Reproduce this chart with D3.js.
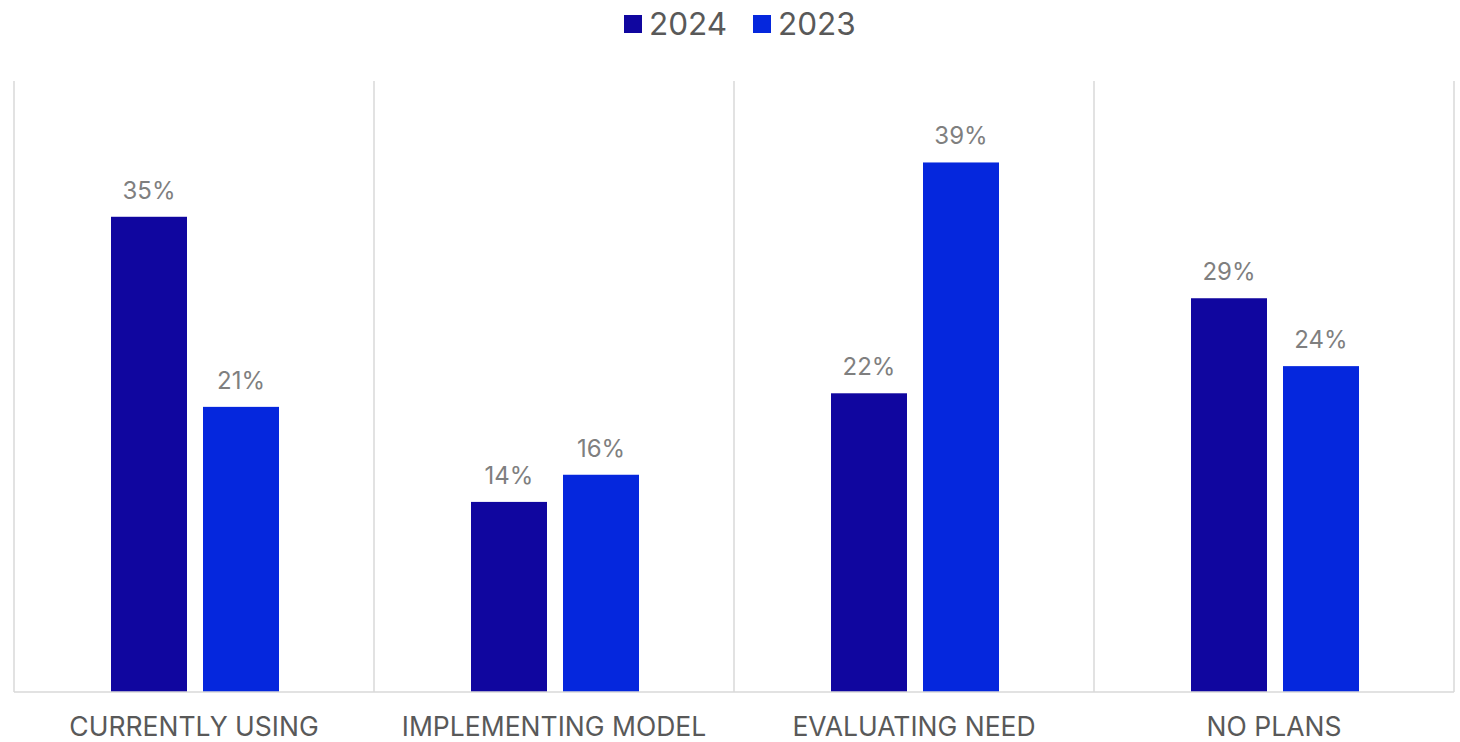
<!DOCTYPE html>
<html>
<head>
<meta charset="utf-8">
<script src="https://cdn.jsdelivr.net/npm/d3@7"></script>
<style>
  html, body { margin: 0; padding: 0; background: #fff; }
  svg { display: block; font-family: Inter, "Noto Sans", sans-serif; }
</style>
</head>
<body>
<svg id="chart" width="1460" height="742"></svg>
<script>
const categories = ["CURRENTLY USING", "IMPLEMENTING MODEL", "EVALUATING NEED", "NO PLANS"];
const seriesNames = ["2024", "2023"];
const values2024 = [35, 14, 22, 29];
const values2023 = [21, 16, 39, 24];
const colors = ["#10069f", "#0527dd"];

const svg = d3.select("#chart");
const margin = { left: 14, right: 6, top: 81, bottom: 50 };
const width = 1460, height = 742;
const plotBottom = height - margin.bottom;

const x = d3.scaleBand()
  .domain(categories)
  .range([margin.left, width - margin.right])
  .paddingInner(0).paddingOuter(0);

const series = [values2024, values2023];
const barW = 76, gap = 16;
const x1 = d3.scaleBand().domain(seriesNames).range([0, barW * 2 + gap]).paddingInner(gap / (barW + gap)).paddingOuter(0);

const y = d3.scaleLinear().domain([0, 45]).range([plotBottom, margin.top]);

// category separators
const seps = d3.range(categories.length + 1).map(i => i === categories.length ? x.range()[1] : x(categories[i]));
svg.append("g").selectAll("line").data(seps).join("line")
  .attr("x1", d => d).attr("x2", d => d)
  .attr("y1", margin.top).attr("y2", plotBottom)
  .attr("stroke", "#d9d9d9").attr("stroke-width", 1.5);

// bars
const groups = svg.append("g").selectAll("g").data(categories).join("g")
  .attr("transform", d => `translate(${x(d) + (x.bandwidth() - x1.range()[1]) / 2 + 1},0)`);

seriesNames.forEach((s, si) => {
  groups.append("rect")
    .attr("x", x1(s))
    .attr("width", x1.bandwidth())
    .attr("y", (d, i) => y(series[si][i]))
    .attr("height", (d, i) => plotBottom - y(series[si][i]))
    .attr("fill", colors[si]);
  groups.append("text")
    .attr("x", x1(s) + x1.bandwidth() / 2)
    .attr("y", (d, i) => y(series[si][i]) - 18)
    .attr("text-anchor", "middle")
    .attr("font-size", 24)
    .attr("fill", "#7f7f7f")
    .text((d, i) => series[si][i] + "%");
});

// baseline
svg.append("line")
  .attr("x1", margin.left).attr("x2", width - margin.right)
  .attr("y1", plotBottom).attr("y2", plotBottom)
  .attr("stroke", "#d9d9d9").attr("stroke-width", 1.5);

// category axis
const xAxis = svg.append("g")
  .attr("transform", `translate(0,${plotBottom})`)
  .call(d3.axisBottom(x).tickSize(0).tickPadding(0));
xAxis.select(".domain").remove();
xAxis.selectAll("text")
  .attr("dy", null)
  .attr("y", 44)
  .attr("font-family", "Inter, 'Noto Sans', sans-serif")
  .attr("font-size", 26.5)
  .attr("fill", "#595959");

// legend
const legend = svg.append("g");
const legendX = [624, 753];
seriesNames.forEach((s, i) => {
  legend.append("rect")
    .attr("x", legendX[i]).attr("y", 15)
    .attr("width", 18).attr("height", 18)
    .attr("fill", colors[i]);
  legend.append("text")
    .attr("x", legendX[i] + 25).attr("y", 35)
    .attr("font-size", 31.5)
    .attr("fill", "#595959")
    .text(s);
});
</script>
</body>
</html>
